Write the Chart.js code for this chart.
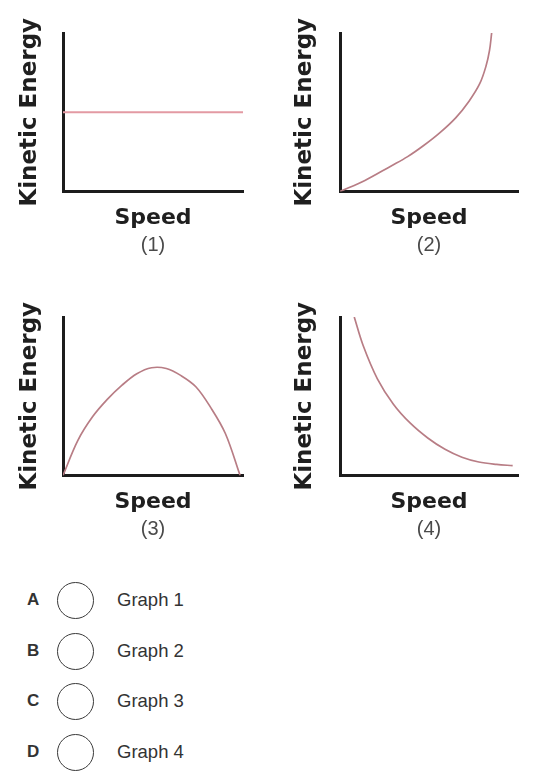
<!DOCTYPE html>
<html lang="en">
<head>
    <title>Kinetic Energy vs Speed</title>
    <meta charset="UTF-8">
    <script src="https://cdn.jsdelivr.net/npm/chart.js@4/dist/chart.umd.min.js"></script>
    <style>
        body {margin:0;padding:0;background:#fff;width:538px;height:774px;position:relative;overflow:hidden;font-family:"Liberation Sans",Arial,Helvetica,sans-serif;}
        canvas {position:absolute;}
        .opt {position:absolute;left:0;width:300px;height:40px;}
        .opt .letter {position:absolute;left:27px;top:0;line-height:40px;font-size:17px;font-weight:bold;color:#333;}
        .opt .circle {position:absolute;left:57px;top:2px;width:35px;height:35px;border:1.3px solid #3a3a3a;border-radius:50%;}
        .opt .label {position:absolute;left:117px;top:0;line-height:40px;font-size:18.5px;color:#333;}
    </style>
</head>
<body>
<canvas id="g1" width="269" height="270" style="left:0;top:0"></canvas>
<canvas id="g2" width="268" height="270" style="left:270px;top:0"></canvas>
<canvas id="g3" width="269" height="270" style="left:0;top:284px"></canvas>
<canvas id="g4" width="268" height="270" style="left:270px;top:284px"></canvas>
<div id="options"></div>
<script>
    // values read off the four sketches (axes run 0..10 with no ticks)
    const speed1 = [0, 10];
    const energy1 = [5, 5];
    const speed2 = [0, 1.4, 2.85, 3.8, 4.7, 5.6, 6.5, 7.25, 7.85, 8.2, 8.4, 8.52];
    const energy2 = [0, 0.7, 1.6, 2.2, 2.9, 3.7, 4.65, 5.7, 6.8, 7.9, 8.9, 10];
    const speed3 = [0, 0.82, 1.64, 2.46, 3.28, 4.1, 4.92, 5.74, 6.56, 7.38, 8.2, 9.02, 9.84];
    const energy3 = [0, 2.2, 3.7, 4.8, 5.7, 6.42, 6.8, 6.75, 6.3, 5.6, 4.3, 2.65, 0];
    const speed4 = [0.8, 1.3, 2.1, 3.0, 3.95, 4.95, 5.9, 6.85, 7.8, 8.8, 9.7];
    const energy4 = [10, 8.2, 6.1, 4.5, 3.3, 2.35, 1.65, 1.15, 0.85, 0.7, 0.62];
    const captions = ['(1)', '(2)', '(3)', '(4)'];
    const choiceLetters = ['A', 'B', 'C', 'D'];
    const choiceLabels = ['Graph 1', 'Graph 2', 'Graph 3', 'Graph 4'];

    const axisFont = {family: '"DejaVu Sans", Verdana, sans-serif', weight: 'bold', lineHeight: 1};

    function makeGraph(id, xs, ys, caption, leftSide, color, width) {
        let points = xs.map((x, i) => ({x: x, y: ys[i]}));
        return new Chart(document.getElementById(id), {
            type: 'line',
            data: {
                datasets: [{
                    data: points,
                    borderColor: color,
                    borderWidth: width,
                    pointRadius: 0,
                    fill: false,
                    tension: 0.35
                }]
            },
            options: {
                responsive: false,
                animation: false,
                events: [],
                layout: {padding: {left: 0, top: 33, right: leftSide ? 26 : 20, bottom: 9.5}},
                scales: {
                    x: {
                        type: 'linear', min: 0, max: 10,
                        grid: {display: false, drawTicks: false},
                        ticks: {display: false},
                        border: {display: true, color: '#1c1c1c', width: 3},
                        title: {display: true, text: 'Speed', color: '#1f1f1f',
                            font: Object.assign({size: 22}, axisFont), padding: {top: 16, bottom: 4}}
                    },
                    y: {
                        type: 'linear', min: 0, max: 10,
                        grid: {display: false, drawTicks: false},
                        ticks: {display: false},
                        border: {display: true, color: '#1c1c1c', width: 3},
                        title: {display: true, text: 'Kinetic Energy', color: '#1f1f1f',
                            font: Object.assign({size: 23}, axisFont),
                            padding: leftSide ? {top: 18.5, bottom: 21.5} : {top: 23.5, bottom: 23.5}}
                    }
                },
                plugins: {
                    legend: {display: false},
                    tooltip: {enabled: false},
                    title: {
                        display: true,
                        text: caption,
                        position: 'bottom',
                        fullSize: false,
                        color: '#4a4a4a',
                        font: {family: '"Liberation Sans Narrow", "Liberation Sans", Arial, sans-serif', size: 20, weight: 'normal', lineHeight: 1},
                        padding: {top: 2, bottom: 5}
                    }
                }
            }
        });
    }

    makeGraph('g1', speed1, energy1, captions[0], true, '#e39aa3', 2);
    makeGraph('g2', speed2, energy2, captions[1], false, '#b87d85', 1.7);
    makeGraph('g3', speed3, energy3, captions[2], true, '#b87d85', 1.7);
    makeGraph('g4', speed4, energy4, captions[3], false, '#b87d85', 1.7);

    // answer choices
    let box = document.getElementById('options');
    choiceLetters.forEach((letter, i) => {
        let row = document.createElement('div');
        row.className = 'opt';
        row.style.top = (580 + i * 50.7) + 'px';
        row.innerHTML = '<span class="letter">' + letter + '</span><span class="circle"></span><span class="label">' + choiceLabels[i] + '</span>';
        box.appendChild(row);
    });
</script>
</body>
</html>
